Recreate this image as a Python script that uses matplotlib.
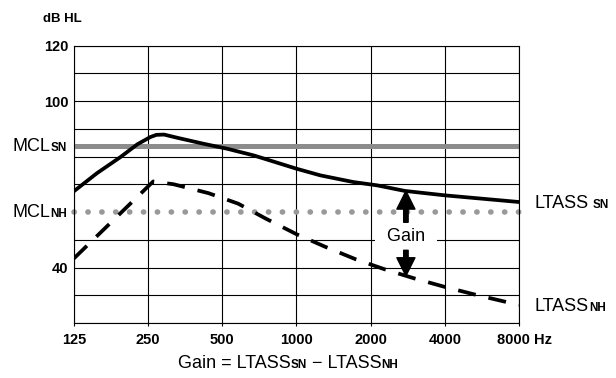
import numpy as np
import matplotlib
matplotlib.use("Agg")
import matplotlib.pyplot as plt
from matplotlib.ticker import NullLocator

plt.rcParams['font.family'] = ['Liberation Sans', 'DejaVu Sans']

# Values (Hz, dB HL)
freq_sn = [125, 155, 193, 226, 255, 270, 290, 330, 419, 523, 670, 1000, 1250, 1700, 2125, 2750, 4000, 8000]
ltass_sn = [67.5, 74.0, 79.8, 84.4, 87.0, 87.8, 87.9, 86.7, 84.6, 82.8, 80.4, 75.6, 73.2, 70.8, 69.6, 67.6, 66.0, 63.6]

freq_nh = [125, 262, 317, 439, 580, 751, 1000, 1305, 1735, 2270, 3000, 4000, 5490, 8000]
ltass_nh = [43.3, 71.0, 70.0, 66.8, 63.0, 57.6, 52.0, 47.5, 43.0, 39.4, 36.1, 33.0, 29.9, 26.5]

mcl_sn = 83.7
mcl_nh = 60

octaves = [125, 250, 500, 1000, 2000, 4000, 8000]
octave_labels = ["125", "250", "500", "1000", "2000", "4000", ""]
db_grid = [20, 30, 40, 50, 70, 80, 90, 100, 110, 120]
db_labels = {120: "120", 100: "100", 40: "40"}

gain_freq = 2780
gain_level = 51

fig = plt.figure(figsize=(6.16, 3.78), dpi=100)
ax = fig.add_axes([74 / 616, 1 - 323 / 378, 445 / 616, (323 - 45.5) / 378])
ax.set_xscale('log', base=2)
ax.set_xlim(125, 8000)
ax.set_ylim(20, 120)
ax.set_xticks(octaves)
ax.set_xticklabels(octave_labels, fontsize=10.5, fontweight='bold')
ax.xaxis.set_minor_locator(NullLocator())
ax.set_yticks(db_grid)
ax.set_yticklabels([db_labels.get(v, "") for v in db_grid], fontsize=10.5, fontweight='bold')
ax.tick_params(axis='x', length=2.5, width=0.8, pad=4.5)
ax.tick_params(axis='y', length=0, pad=4)
ax.grid(True, color='black', linewidth=0.8)
ax.set_axisbelow(True)
for s in ax.spines.values():
    s.set_linewidth(0.8)

# MCL reference lines
ax.axhline(mcl_sn, color='#8c8c8c', lw=3.6, zorder=2)
ax.axhline(mcl_nh, color='#999999', lw=4.0, linestyle=(0, (0.05, 2.45)),
           dash_capstyle='round', clip_on=False, zorder=2)

# LTASS curves
ax.plot(freq_sn, ltass_sn, color='black', lw=2.7, solid_joinstyle='round', zorder=3)
ax.plot(freq_nh, ltass_nh, color='black', lw=2.7, linestyle=(0, (4.8, 3.5)),
        dash_capstyle='butt', zorder=3)

# Gain arrows
sn_at = np.interp(np.log2(gain_freq), np.log2(freq_sn), ltass_sn)
nh_at = np.interp(np.log2(gain_freq), np.log2(freq_nh), ltass_nh)
arrow = dict(facecolor='black', edgecolor='black', width=3.2, headwidth=13, headlength=13, shrink=0)
ax.annotate("", xy=(gain_freq, sn_at), xytext=(gain_freq, gain_level + 5.3),
            arrowprops=arrow, annotation_clip=False, zorder=6)
ax.annotate("", xy=(gain_freq, nh_at), xytext=(gain_freq, gain_level - 4.8),
            arrowprops=arrow, annotation_clip=False, zorder=6)
ax.text(gain_freq, gain_level, "  Gain  ", ha='center', va='center', fontsize=13,
        bbox=dict(boxstyle='square,pad=0.1', fc='white', ec='none'), zorder=5)

# MCL labels on the left
for level, sub in [(mcl_sn, 'SN'), (mcl_nh, 'NH')]:
    s = ax.annotate(sub, xy=(0, level), xycoords=('axes fraction', 'data'),
                    xytext=(-5, -3.5), textcoords='offset points', ha='right', va='baseline',
                    fontsize=8.5, fontweight='bold', annotation_clip=False)
    ax.annotate('MCL', xy=(0, level), xycoords=(s, 'data'), xytext=(0, -3.5),
                textcoords='offset points', ha='right', va='baseline', fontsize=13,
                annotation_clip=False)

# LTASS labels on the right
for freqs, vals, sub, gap in [(freq_sn, ltass_sn, 'SN', 2.5), (freq_nh, ltass_nh, 'NH', 0)]:
    t = ax.annotate('LTASS', xy=(freqs[-1], vals[-1]), xytext=(11.5, -4.5),
                    textcoords='offset points', ha='left', va='baseline', fontsize=13,
                    annotation_clip=False)
    ax.annotate(sub, xy=(1, vals[-1]), xycoords=(t, 'data'), xytext=(gap, -4.5),
                textcoords='offset points', ha='left', va='baseline', fontsize=8.5,
                fontweight='bold', annotation_clip=False)

# last x label with unit
ax.annotate('8000 Hz', xy=(8000, 0), xycoords=('data', 'axes fraction'), xytext=(-15.8, -7),
            textcoords='offset points', ha='left', va='top', fontsize=10.5, fontweight='bold',
            annotation_clip=False)

fig.text(43 / 616, 1 - 22 / 378, 'dB HL', fontsize=9.5, fontweight='bold', va='baseline')

# formula below the axis
base_px = 10
parts = [('Gain = LTASS', 13, 'normal'), ('SN', 8.5, 'bold'), (' \u2212 LTASS', 13, 'normal'), ('NH', 8.5, 'bold')]
prev = ax.annotate(parts[0][0], xy=(178, base_px), xycoords='figure pixels', ha='left',
                   va='baseline', fontsize=parts[0][1], annotation_clip=False)
for txt, size, weight in parts[1:]:
    prev = ax.annotate(txt, xy=(1, base_px), xycoords=(prev, 'figure pixels'), ha='left',
                       va='baseline', fontsize=size, fontweight=weight, annotation_clip=False)

fig.savefig('out.png', dpi=100)
